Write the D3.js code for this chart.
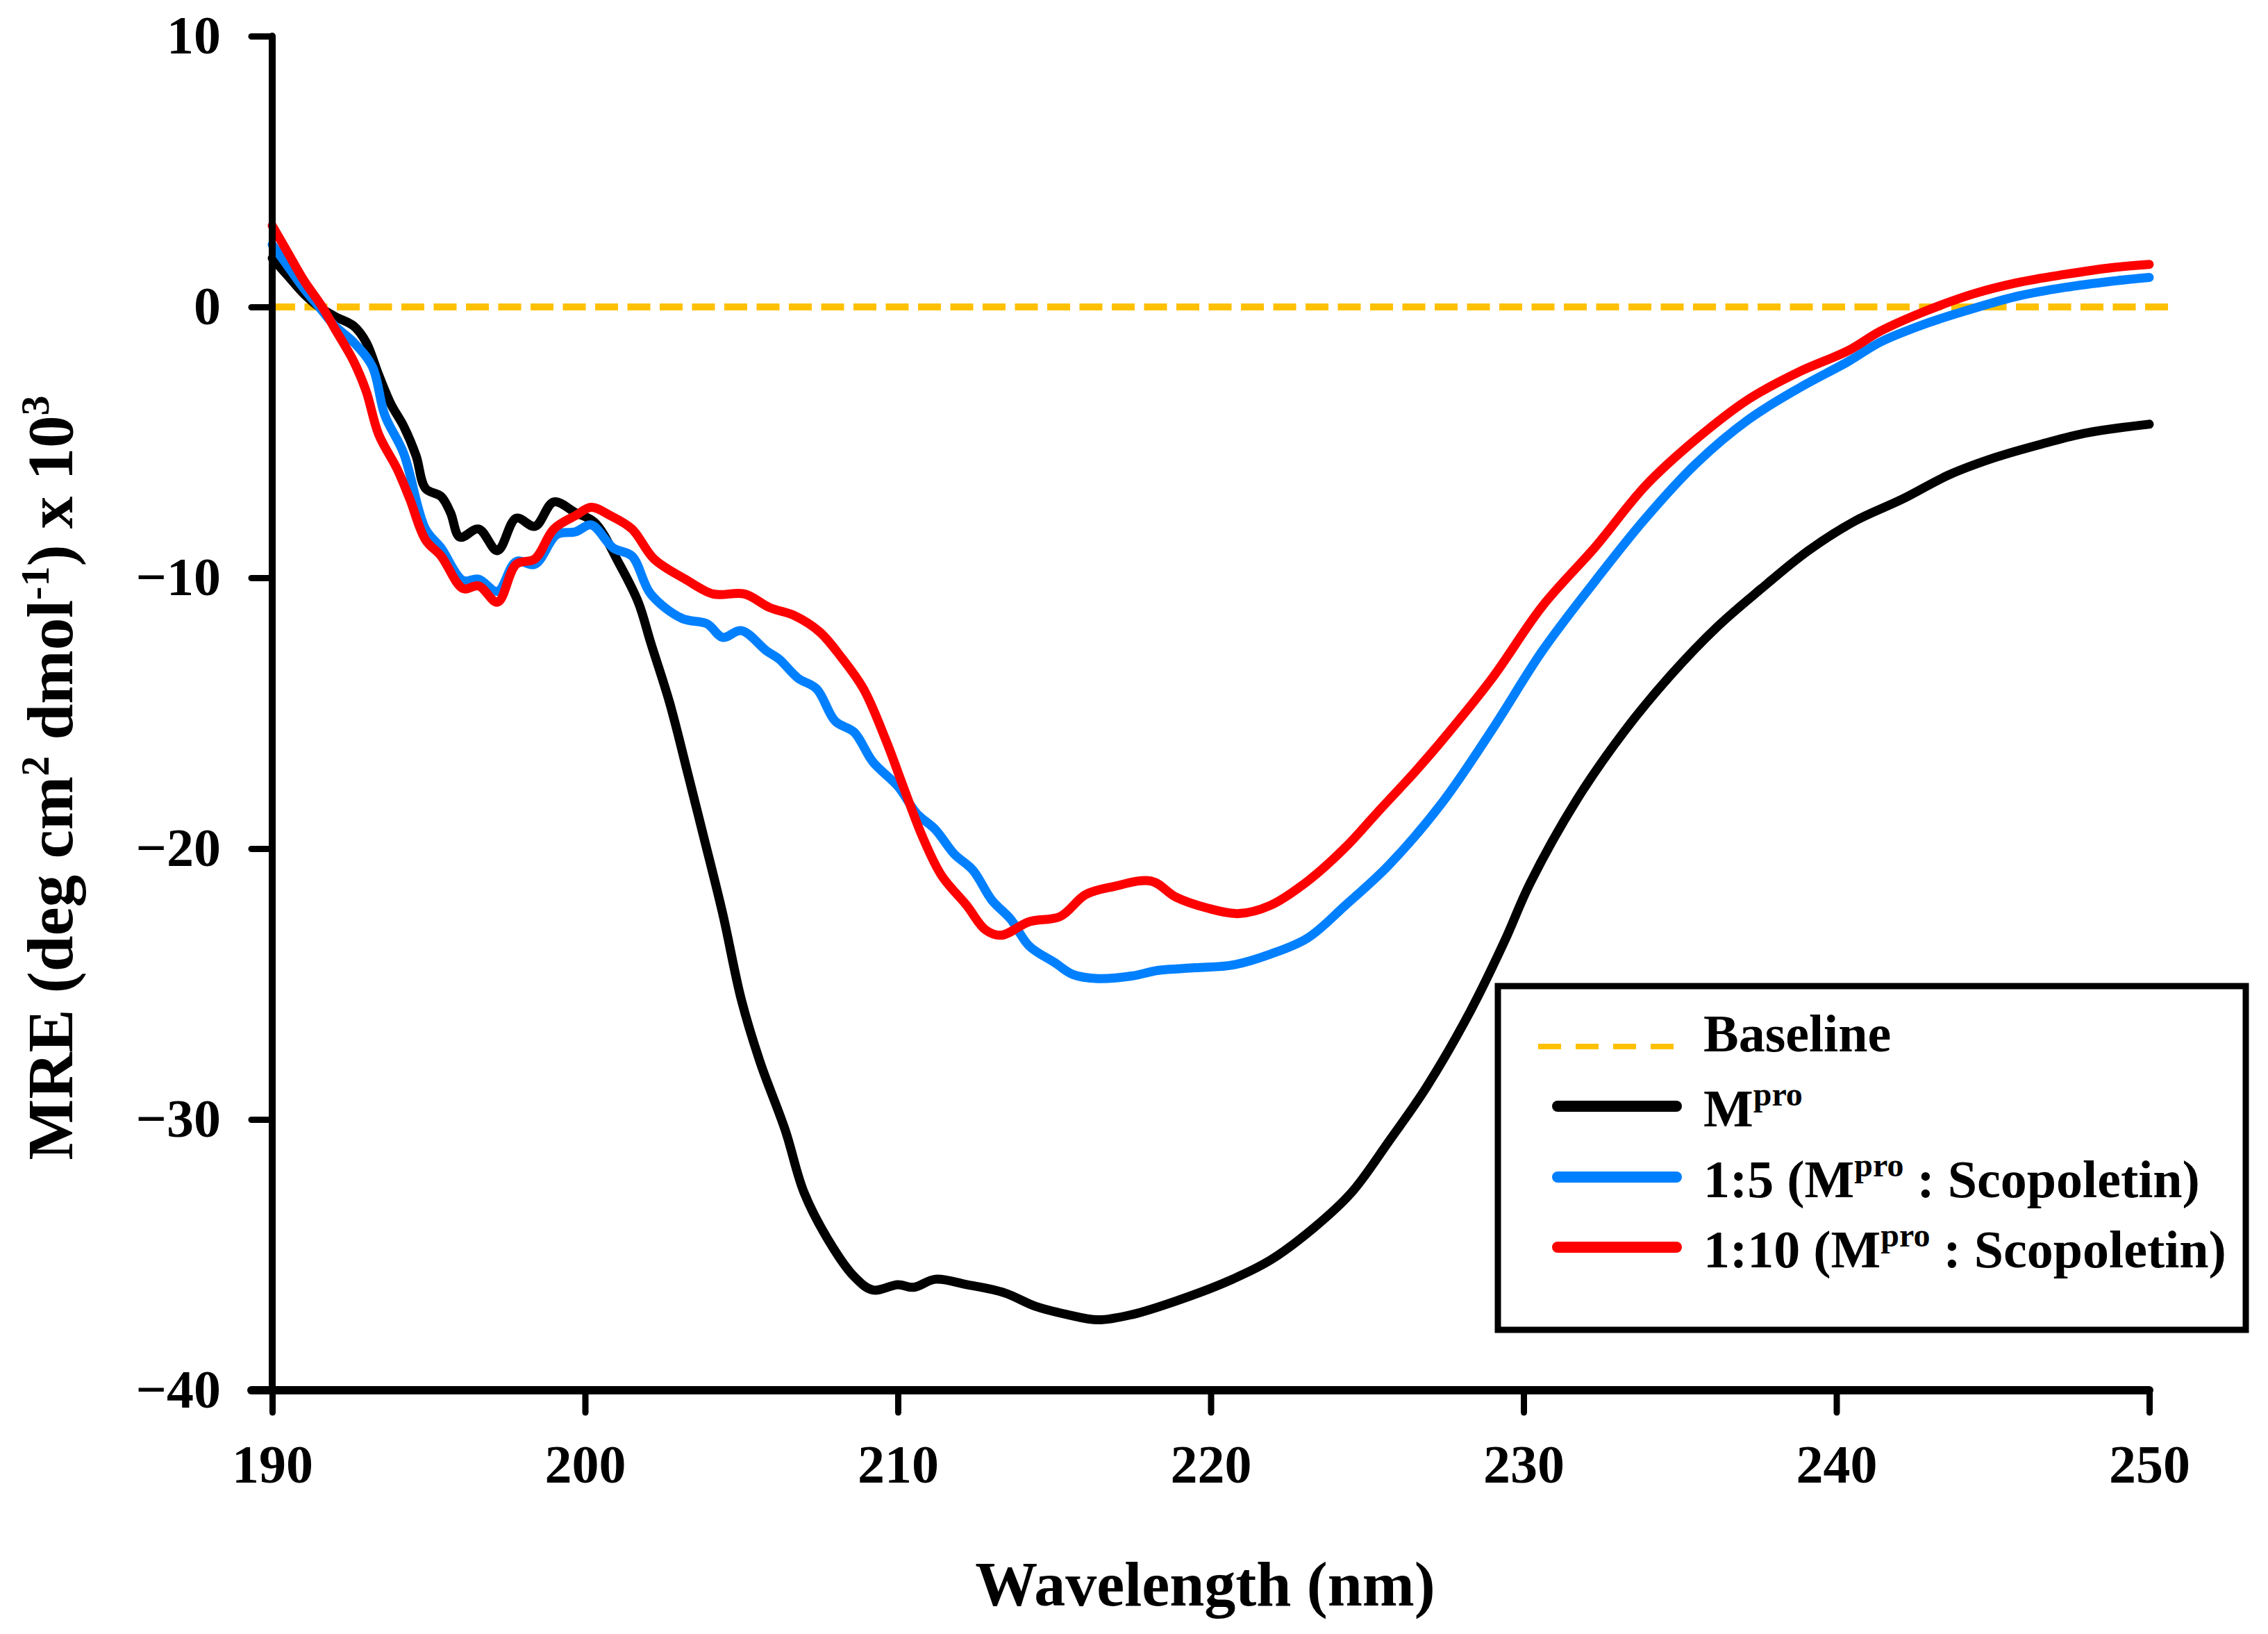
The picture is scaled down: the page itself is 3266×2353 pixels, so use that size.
<!DOCTYPE html>
<html>
<head>
<meta charset="utf-8">
<script src="https://cdn.jsdelivr.net/npm/d3@7"></script>
<style>
  html, body { margin: 0; padding: 0; background: #fff; }
  svg { display: block; }
  text { font-family: "Liberation Serif", "Times New Roman", serif; font-weight: bold; fill: #000; }
</style>
</head>
<body>
<script>
// ---------------- DATA ----------------
const xTicks = [190, 200, 210, 220, 230, 240, 250];
const yTicks = [10, 0, -10, -20, -30, -40];

const mproWavelength = [190.0,190.5,191.0,191.5,192.0,192.6,193.0,193.4,193.8,194.2,194.6,194.9,195.4,195.7,196.0,196.6,197.2,197.8,198.4,199.0,199.7,200.3,201.1,201.7,202.1,202.7,203.3,203.8,204.4,205.0,205.6,206.4,207.0,207.8,208.6,209.2,210.0,210.5,211.2,212.2,213.4,214.4,215.4,216.4,217.5,218.9,220.5,221.9,223.3,224.5,225.7,226.9,228.3,229.4,230.2,231.7,233.2,234.7,236.2,237.6,239.1,240.6,242.1,243.6,245.1,246.6,248.0,250.0];
const mproValues     = [1.8,1.15,0.5,0.0,-0.35,-0.7,-1.3,-2.5,-3.6,-4.4,-5.5,-6.7,-7.0,-7.6,-8.5,-8.2,-9.0,-7.8,-8.1,-7.2,-7.6,-7.95,-9.5,-10.9,-12.4,-14.6,-17.3,-19.6,-22.4,-25.6,-27.9,-30.4,-32.7,-34.5,-35.8,-36.3,-36.1,-36.2,-35.9,-36.1,-36.4,-36.9,-37.2,-37.4,-37.2,-36.7,-36.0,-35.2,-34.0,-32.7,-30.8,-28.8,-26.0,-23.4,-21.3,-18.2,-15.7,-13.6,-11.8,-10.4,-9.0,-7.9,-7.1,-6.2,-5.55,-5.05,-4.65,-4.33];

const ratio5Wavelength = [190.0,190.5,191.0,191.5,192.0,192.6,193.2,193.6,194.2,194.9,195.4,196.1,196.6,197.2,197.8,198.4,199.1,199.7,200.2,200.9,201.5,202.1,203.1,203.9,204.4,205.0,205.8,206.2,206.8,207.4,208.0,208.6,209.2,210.0,210.6,211.2,211.8,212.4,213.0,213.6,214.2,215.0,215.6,216.4,217.5,218.3,219.5,220.7,221.9,223.1,224.3,225.7,227.4,229.0,230.6,232.3,233.9,235.5,237.2,238.8,240.4,241.4,242.9,244.4,245.8,247.3,248.8,250.0];
const ratio5Values     = [2.3,1.5,0.7,0.0,-0.7,-1.3,-2.2,-4.0,-5.4,-8.2,-8.9,-10.1,-10.05,-10.5,-9.4,-9.5,-8.4,-8.3,-8.05,-8.9,-9.2,-10.6,-11.5,-11.7,-12.2,-11.95,-12.7,-13.0,-13.7,-14.1,-15.3,-15.7,-16.8,-17.7,-18.7,-19.3,-20.2,-20.8,-21.9,-22.6,-23.6,-24.2,-24.65,-24.8,-24.7,-24.5,-24.4,-24.3,-23.9,-23.3,-22.1,-20.6,-18.3,-15.6,-12.7,-10.1,-7.8,-5.8,-4.15,-3.0,-2.0,-1.3,-0.6,-0.05,0.4,0.72,0.95,1.09];

const ratio10Wavelength = [190.0,190.5,191.0,191.6,192.0,192.6,193.0,193.4,194.0,194.4,194.9,195.4,196.1,196.6,197.2,197.8,198.4,199.0,199.7,200.2,200.8,201.5,202.2,203.2,204.1,205.1,205.9,206.7,207.5,208.2,208.9,209.6,210.2,210.8,211.4,212.2,212.8,213.3,214.2,215.2,216.0,216.9,218.1,218.9,219.9,220.9,221.9,223.1,224.3,225.3,226.5,227.4,229.0,230.6,232.3,233.9,235.5,237.2,238.8,240.4,241.4,242.9,244.4,245.8,247.3,248.8,250.0];
const ratio10Values     = [3.0,2.0,1.0,0.0,-0.8,-2.0,-3.1,-4.7,-6.0,-7.1,-8.6,-9.2,-10.4,-10.3,-10.9,-9.5,-9.3,-8.2,-7.7,-7.4,-7.7,-8.2,-9.3,-10.05,-10.6,-10.6,-11.1,-11.4,-12.0,-12.95,-14.1,-15.95,-17.8,-19.6,-21.0,-22.1,-23.0,-23.2,-22.7,-22.5,-21.7,-21.4,-21.2,-21.8,-22.2,-22.4,-22.1,-21.2,-19.96,-18.7,-17.2,-16.0,-13.7,-11.05,-8.85,-6.6,-4.9,-3.4,-2.4,-1.6,-0.9,-0.13,0.49,0.9,1.2,1.45,1.57];

const baselineWavelength = [190, 250.7];
const baselineValues = [0, 0];

const seriesNames = ["Mpro", "1:5", "1:10"];
const seriesColors = ["#000000", "#0080FF", "#FF0000"];

// ---------------- CHART ----------------
const W = 3266, H = 2353;
const svg = d3.select("body").append("svg").attr("width", W).attr("height", H);

const x = d3.scaleLinear().domain([190, 250]).range([392, 3095]);
const y = d3.scaleLinear().domain([-40, 10]).range([2002, 52]);

const zip = (xs, ys) => xs.map((v, i) => ({ x: v, y: ys[i] }));
const line = d3.line().x(d => x(d.x)).y(d => y(d.y)).curve(d3.curveCatmullRom.alpha(0.5));

// baseline (dashed)
svg.append("path")
  .attr("d", d3.line().x(d => x(d.x)).y(d => y(d.y))(zip(baselineWavelength, baselineValues)))
  .attr("fill", "none").attr("stroke", "#FFC000").attr("stroke-width", 10)
  .attr("stroke-dasharray", "33,13.5");

// series
const seriesData = [
  zip(mproWavelength, mproValues),
  zip(ratio5Wavelength, ratio5Values),
  zip(ratio10Wavelength, ratio10Values)
];
seriesData.forEach((d, i) => {
  svg.append("path").attr("d", line(d))
    .attr("fill", "none").attr("stroke", seriesColors[i])
    .attr("stroke-width", 13).attr("stroke-linejoin", "round").attr("stroke-linecap", "round");
});

// axes
const fmt = v => (v < 0 ? "\u2212" + Math.abs(v) : String(v));
const yAxis = svg.append("g").attr("transform", `translate(${x(190)},0)`)
  .call(d3.axisLeft(y).tickValues(yTicks).tickFormat(fmt).tickSize(30).tickPadding(44));
yAxis.select(".domain").remove();
yAxis.selectAll(".tick line").attr("stroke", "#000").attr("stroke-width", 9).attr("stroke-linecap", "round");
yAxis.selectAll(".tick text").attr("font-size", 78).attr("font-family", "Liberation Serif").attr("font-weight", "bold");

const xAxis = svg.append("g").attr("transform", `translate(0,${y(-40)})`)
  .call(d3.axisBottom(x).tickValues(xTicks).tickFormat(d3.format("d")).tickSize(32).tickPadding(46));
xAxis.select(".domain").remove();
xAxis.selectAll(".tick line").attr("stroke", "#000").attr("stroke-width", 9).attr("stroke-linecap", "round");
xAxis.selectAll(".tick text").attr("font-size", 78).attr("font-family", "Liberation Serif").attr("font-weight", "bold");

// axis lines
svg.append("line").attr("x1", x(190)).attr("x2", x(190)).attr("y1", y(10)).attr("y2", y(-40))
  .attr("stroke", "#000").attr("stroke-width", 10).attr("stroke-linecap", "round");
svg.append("line").attr("x1", x(190) - 30).attr("x2", x(250)).attr("y1", y(-40)).attr("y2", y(-40))
  .attr("stroke", "#000").attr("stroke-width", 12).attr("stroke-linecap", "round");

// axis titles
svg.append("text").attr("x", x(220) - 8).attr("y", 2312).attr("text-anchor", "middle")
  .attr("font-size", 90).text("Wavelength (nm)");

const yt = svg.append("text").attr("transform", "translate(104,1120) rotate(-90)")
  .attr("text-anchor", "middle").attr("font-size", 93);
yt.append("tspan").text("MRE (deg cm");
yt.append("tspan").attr("font-size", 58).attr("dy", -34).text("2");
yt.append("tspan").attr("dy", 34).text(" dmol");
yt.append("tspan").attr("font-size", 58).attr("dy", -34).text("-1");
yt.append("tspan").attr("dy", 34).text(") x 10");
yt.append("tspan").attr("font-size", 58).attr("dy", -34).text("3");

// legend
const legend = svg.append("g");
legend.append("rect").attr("x", 2157).attr("y", 1420).attr("width", 3234 - 2157).attr("height", 1915 - 1420)
  .attr("fill", "#fff").attr("stroke", "#000").attr("stroke-width", 9);

const legendRows = [
  { color: "#FFC000", dash: true, lineY: 1507, textY: 1514, parts: [["Baseline", false]] },
  { color: seriesColors[0], lineY: 1593, textY: 1622, parts: [["M", false], ["pro", true]] },
  { color: seriesColors[1], lineY: 1695, textY: 1724, parts: [["1:5 (M", false], ["pro", true], [" : Scopoletin)", false]] },
  { color: seriesColors[2], lineY: 1796, textY: 1825, parts: [["1:10 (M", false], ["pro", true], [" : Scopoletin)", false]] }
];
legendRows.forEach(r => {
  const l = legend.append("line").attr("y1", r.lineY).attr("y2", r.lineY).attr("stroke", r.color);
  if (r.dash) {
    l.attr("x1", 2215).attr("x2", 2410).attr("stroke-width", 8).attr("stroke-dasharray", "33,21");
  } else {
    l.attr("x1", 2243).attr("x2", 2414).attr("stroke-width", 16).attr("stroke-linecap", "round");
  }
  const t = legend.append("text").attr("x", 2453).attr("y", r.textY).attr("font-size", 76);
  let sup = false;
  r.parts.forEach(([s, isSup]) => {
    const ts = t.append("tspan").text(s);
    if (isSup && !sup) { ts.attr("font-size", 48).attr("dy", -30); sup = true; }
    else if (!isSup && sup) { ts.attr("dy", 30); sup = false; }
  });
});
</script>
</body>
</html>
